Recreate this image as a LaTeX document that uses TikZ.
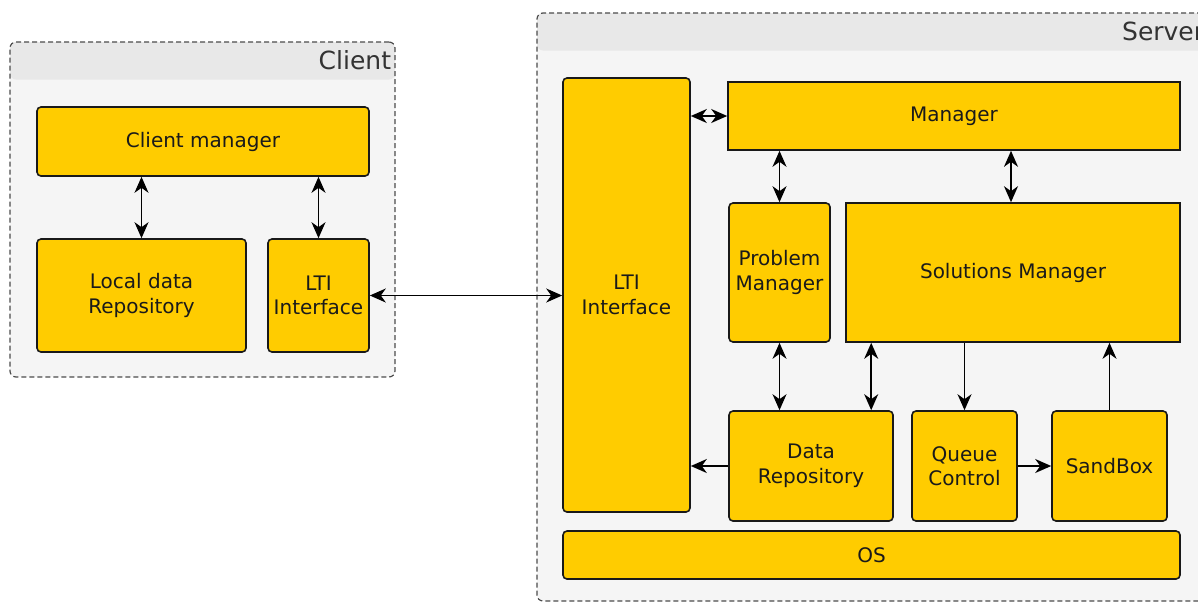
\documentclass[tikz,border=0pt]{standalone}
\usepackage{fontspec}
\setmainfont{DejaVu Sans}
\usetikzlibrary{arrows.meta}
\definecolor{boxyellow}{HTML}{FFCC00}
\definecolor{groupfill}{HTML}{F5F5F5}
\definecolor{titlefill}{HTML}{E8E8E8}
\definecolor{inktext}{HTML}{1A1A1A}

\begin{document}
\begin{tikzpicture}[x=1pt,y=-1pt,line width=1pt,>={Stealth[length=16pt,width=14pt,inset=5pt]},
  group/.style={draw=black!70,line width=1.2pt,dash pattern=on 5pt off 3pt,fill=groupfill,rounded corners=6pt,
    path picture={\fill[titlefill] (path picture bounding box.north west) rectangle ([yshift=-37.5pt]path picture bounding box.north east);}},
  grouptitle/.style={anchor=east,inner sep=0pt,text=black!80,font=\fontsize{25}{30}\selectfont},
  block/.style={draw=black!90,line width=1.6pt,fill=boxyellow,rounded corners=4pt,align=center,inner sep=0pt,
    text=inktext,font=\fontsize{20}{24.5}\selectfont},
  sqblock/.style={block,sharp corners},
  link/.style={<->,line width=1.6pt},
  flow/.style={->,line width=1.6pt}]

\useasboundingbox (0,0) rectangle (1198,603);

% groups
\node[group,minimum width=385pt,minimum height=335pt] (Client) at (202.5,209.5) {};
\node[grouptitle] (ClientTitle) at ([xshift=-4pt,yshift=-19pt]Client.north east) {Client};
\node[group,minimum width=671pt,minimum height=588pt] (Server) at (872.5,307) {};
\node[grouptitle] (ServerTitle) at ([xshift=-4pt,yshift=-18.5pt]Server.north east) {Server};

% client side
\node[block,minimum width=332pt,minimum height=69pt] (ClientMgr) at (203,141.5) {Client manager};
\node[block,minimum width=209pt,minimum height=113pt] (LocalRepo) at (141.5,295.5) {Local data\\Repository};
\node[block,minimum width=101pt,minimum height=113pt] (ClientLTI) at (318.5,295.5) {LTI\\Interface};

% server side
\node[block,minimum width=127pt,minimum height=434pt] (ServerLTI) at (626.5,295) {LTI\\Interface};
\node[sqblock,minimum width=452pt,minimum height=68pt] (Mgr) at (954,116) {Manager};
\node[block,minimum width=101pt,minimum height=139pt] (ProblemMgr) at (779.5,272.5) {Problem\\Manager};
\node[sqblock,minimum width=334pt,minimum height=139pt] (SolMgr) at (1013,272.5) {Solutions Manager};
\node[block,minimum width=164pt,minimum height=110pt] (DataRepo) at (811,466) {Data\\Repository};
\node[block,minimum width=105pt,minimum height=110pt] (QueueCtl) at (964.5,466) {Queue\\Control};
\node[block,minimum width=115pt,minimum height=110pt] (SandBox) at (1109.5,466) {SandBox};
\node[block,minimum width=617pt,minimum height=48pt] (OS) at (871.5,555) {OS};

% connectors
\draw[link] (LocalRepo.north) -- (LocalRepo.north |- ClientMgr.south);
\draw[link] (ClientLTI.north) -- (ClientLTI.north |- ClientMgr.south);
\draw[link] (ClientLTI.east) -- (ClientLTI.east -| ServerLTI.west);

\draw[link] (Mgr.west) -- (Mgr.west -| ServerLTI.east);
\draw[link] (ProblemMgr.north) -- (ProblemMgr.north |- Mgr.south);
\draw[link] ([xshift=-2pt]SolMgr.north) -- ([xshift=-2pt]SolMgr.north |- Mgr.south);
\draw[link] (ProblemMgr.south) -- (ProblemMgr.south |- DataRepo.north);
\draw[link] ([xshift=26pt]SolMgr.south west) -- ([xshift=26pt]SolMgr.south west |- DataRepo.north);
\draw[flow] (QueueCtl.north |- SolMgr.south) -- (QueueCtl.north);
\draw[flow] (SandBox.north) -- (SandBox.north |- SolMgr.south);
\draw[flow] (DataRepo.west) -- (DataRepo.west -| ServerLTI.east);
\draw[flow] (QueueCtl.east) -- (SandBox.west);

\end{tikzpicture}
\end{document}
